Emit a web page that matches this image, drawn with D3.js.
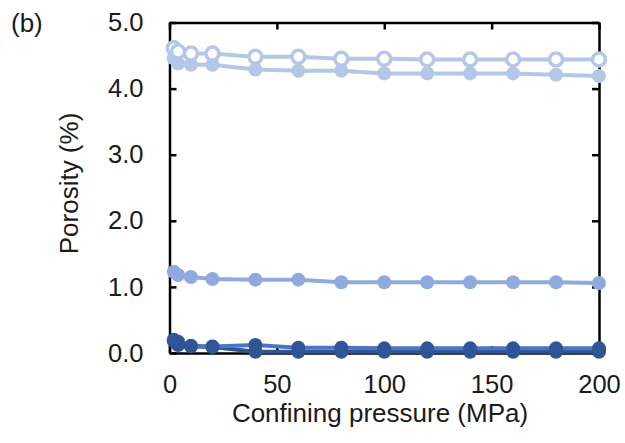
<!DOCTYPE html>
<html>
<head>
<meta charset="utf-8">
<script src="https://cdn.jsdelivr.net/npm/d3@7"></script>
<style>
  body { margin: 0; background: #fff; }
  text { font-family: "Liberation Sans", Arial, sans-serif; fill: #1a1a1a; }
</style>
</head>
<body>
<div id="chart"></div>
<script>
// Data
const pressure = [2, 4, 10, 20, 40, 60, 80, 100, 120, 140, 160, 180, 200]
const openLight = [4.61, 4.56, 4.53, 4.53, 4.48, 4.48, 4.45, 4.45, 4.44, 4.44, 4.44, 4.44, 4.44]
const filledLight = [4.46, 4.38, 4.36, 4.36, 4.29, 4.27, 4.27, 4.23, 4.23, 4.23, 4.23, 4.21, 4.19]
const filledMid = [1.23, 1.18, 1.15, 1.12, 1.11, 1.11, 1.07, 1.07, 1.07, 1.07, 1.07, 1.07, 1.06]
const filledBlue = [0.2, 0.17, 0.11, 0.1, 0.12, 0.08, 0.08, 0.07, 0.07, 0.07, 0.07, 0.07, 0.07]
const filledDark = [0.18, 0.12, 0.1, 0.09, 0.02, 0.02, 0.02, 0.02, 0.02, 0.02, 0.02, 0.02, 0.02]
const xTicks = [0, 50, 100, 150, 200]
const yTicks = [0, 1, 2, 3, 4, 5]

const series = [
  { values: filledDark, color: '#2f5597', open: false },
  { values: filledBlue, color: '#4a76c6', open: false, pointColor: '#2f5597' },
  { values: filledMid, color: '#8faadc', open: false },
  { values: filledLight, color: '#b4c7e7', open: false },
  { values: openLight, color: '#b4c7e7', open: true }
]

// Dimensions
const dimensions = { width: 625, height: 443, left: 169.5, right: 599, top: 22.5, bottom: 353 }

const svg = d3.select('#chart')
  .append('svg')
  .attr('width', dimensions.width)
  .attr('height', dimensions.height)

// Scales
const xScale = d3.scaleLinear().domain([0, 200]).range([dimensions.left, dimensions.right])
const yScale = d3.scaleLinear().domain([0, 5]).range([dimensions.bottom, dimensions.top])

// Axes (ticks pointing inward, mirrored on all sides)
const tickLen = 7
svg.append('g')
  .attr('transform', `translate(0,${dimensions.bottom})`)
  .call(d3.axisBottom(xScale).tickValues(xTicks).tickSize(-tickLen).tickPadding(22).tickSizeOuter(0))
svg.append('g')
  .attr('transform', `translate(0,${dimensions.top})`)
  .call(d3.axisTop(xScale).tickValues(xTicks).tickSize(-tickLen).tickFormat('').tickSizeOuter(0))
svg.append('g')
  .attr('transform', `translate(${dimensions.left},0)`)
  .call(d3.axisLeft(yScale).tickValues(yTicks).tickSize(-tickLen).tickPadding(26).tickFormat(d3.format('.1f')).tickSizeOuter(0))
svg.append('g')
  .attr('transform', `translate(${dimensions.right},0)`)
  .call(d3.axisRight(yScale).tickValues(yTicks).tickSize(-tickLen).tickFormat('').tickSizeOuter(0))

svg.selectAll('.domain, .tick line')
  .attr('stroke', '#000')
  .attr('stroke-width', 2.5)
svg.selectAll('.tick text')
  .attr('font-size', 25.5)
  .attr('fill', '#1a1a1a')

// Series
const line = d3.line()
  .x((d, i) => xScale(pressure[i]))
  .y(d => yScale(d))

series.forEach(s => {
  const g = svg.append('g')
  g.append('path')
    .datum(s.values)
    .attr('d', line)
    .attr('fill', 'none')
    .attr('stroke', s.color)
    .attr('stroke-width', 4)
  g.selectAll('circle')
    .data(s.values)
    .join('circle')
    .attr('cx', (d, i) => xScale(pressure[i]))
    .attr('cy', d => yScale(d))
    .attr('r', s.open ? 6.5 : 7)
    .attr('fill', s.open ? '#fff' : (s.pointColor || s.color))
    .attr('stroke', s.open ? s.color : 'none')
    .attr('stroke-width', s.open ? 3.5 : 0)
})

// Labels
svg.append('text')
  .attr('x', 380)
  .attr('y', 421.5)
  .attr('text-anchor', 'middle')
  .attr('font-size', 26)
  .text('Confining pressure (MPa)')

svg.append('text')
  .attr('transform', `translate(78,183.5) rotate(-90)`)
  .attr('text-anchor', 'middle')
  .attr('font-size', 26)
  .text('Porosity (%)')

svg.append('text')
  .attr('x', 11)
  .attr('y', 32)
  .attr('font-size', 26)
  .text('(b)')
</script>
</body>
</html>
